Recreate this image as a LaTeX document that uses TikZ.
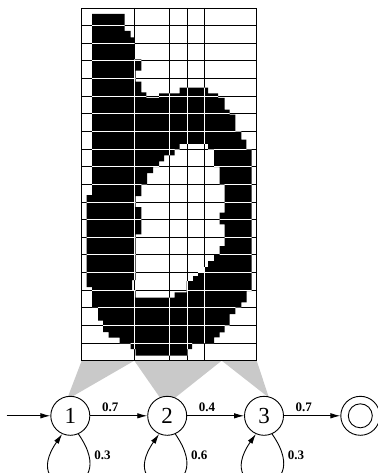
\documentclass[tikz,border=0pt]{standalone}
\usepackage{fontspec}
\setmainfont{Liberation Serif}
\usetikzlibrary{arrows.meta,backgrounds}

\definecolor{shadegray}{gray}{0.79}

% outline of the scanned letter: outer edge, then the hole
\newcommand\glyph{%
  (92,14) -| (124.7,31) -| (130.7,37.3) -| (134.7,59.3) -| (141.3,70.7)
  -| (135.7,81.7) -| (141.3,92.3) -| (146.3,98) -| (159,93.3) -| (179.7,87.7)
  -| (208,93.3) -| (218,98) -| (224.7,109.7) -| (229.7,114.7) -| (235.3,131.3)
  -| (241.3,139.7) -| (246.3,149.7) -| (251.5,291) -| (246.5,302.3)
  -| (241.3,307.3) -| (235.3,314) -| (229.7,325.7) -| (224.7,332.3)
  -| (219.7,337.3) -| (214,343) -| (192,349) -| (187.3,355.5) -| (135.5,349)
  -| (130.7,343) -| (119.7,337.5) -| (108.7,332) -| (103,320.5) -| (98,307)
  -| (92,287) -| (86.5,195) -| (92,14) -- cycle
  (179.7,144) -| (208,149.7) -| (214,167) -| (219.7,184.3) -| (224.7,212.7)
  -| (219.7,224.3) -| (224.7,246) -| (219.7,255) -| (214,261) -| (208,267)
  -| (204,272) -| (198,276) -| (193,281) -| (186.5,292.3) -| (174.7,297.5)
  -| (135.7,290) -| (132,280) -| (135.7,234.3) -| (141.3,207) -| (135.7,196)
  -| (141.3,184.3) -| (147,173) -| (153,167) -| (159,161.3) -| (164,155.3)
  -| (174.7,149.7) -| (179.7,144) -- cycle}

% inner lines of the frame grid
\newcommand\gridlines{%
  \foreach \vx in {134.3,169.3,187.3,204.3}
    \draw (\vx,\gridT) -- (\vx,\gridB);
  \foreach \k in {1,...,19}
    \draw (\gridL,{\gridT+\k*\rowh}) -- (\gridR,{\gridT+\k*\rowh});}

\begin{document}
\begin{tikzpicture}[
  x=1pt, y=-1pt,
  >={Latex[length=10pt,width=5.5pt]},
  state/.style={circle, draw, fill=white, line width=0.9pt, minimum size=39pt,
                inner sep=0pt, font=\fontsize{23}{24}\selectfont},
  trans/.style={->, line width=0.9pt},
  lab/.style={font=\fontsize{13}{14}\selectfont\bfseries, inner sep=1pt},
  tlab/.style={lab, pos=.35, above=3pt},
  llab/.style={lab, pos=.12, right=4pt},
  gridln/.style={line width=0.9pt},
  shade/.style={fill=shadegray},
]

\def\gridL{81.7} \def\gridR{256.7} \def\gridT{8} \def\gridB{360.7}
\def\rowh{17.635}
\def\sy{415.8}

\useasboundingbox (0,0) rectangle (377,473);

% scanned letter
\fill[even odd rule] \glyph;

% grid: black on paper, white on ink
\begin{scope}[gridln]
  \draw (\gridL,\gridT) rectangle (\gridR,\gridB);
  \gridlines
\end{scope}
\begin{scope}[gridln, white, even odd rule]
  \clip \glyph;
  \gridlines
\end{scope}

% states
\node[state] (s1)  at (70.3,\sy)  {1};
\node[state] (s2)  at (167.2,\sy) {2};
\node[state] (s3)  at (264,\sy)   {3};
\node[state] (fin) at (360.3,\sy) {};
\draw[line width=0.9pt] (fin) circle[radius=12pt];

% column groups feeding each state
\coordinate (g0) at (\gridL,\gridB);
\coordinate (g1) at (134.3,\gridB);
\coordinate (g2) at (221.7,\gridB);
\coordinate (g3) at (\gridR,\gridB);
\begin{scope}[on background layer]
  \fill[shade] (g0) -- (g1) -- (s1.82) -- (s1.96) -- cycle;
  \fill[shade] (g1) -- (g2) -- (s2.66) -- (s2.112) -- cycle;
  \fill[shade] (g2) -- (g3) -- (s3.77) -- (s3.82) -- cycle;
\end{scope}

% transitions
\coordinate (start) at (6.7,\sy);
\draw[trans] (start) -- (s1);
\draw[trans] (s1) -- node[tlab]{0.7} (s2);
\draw[trans] (s2) -- node[tlab]{0.4} (s3);
\draw[trans] (s3) -- node[tlab]{0.7} (fin);

% self-loops
\draw[trans] (s1.-66) .. controls +(46,66) and +(-46,66) .. node[llab]{0.3} (s1.-114);
\draw[trans] (s2.-66) .. controls +(46,66) and +(-46,66) .. node[llab]{0.6} (s2.-114);
\draw[trans] (s3.-66) .. controls +(46,66) and +(-46,66) .. node[llab]{0.3} (s3.-114);

\end{tikzpicture}
\end{document}
